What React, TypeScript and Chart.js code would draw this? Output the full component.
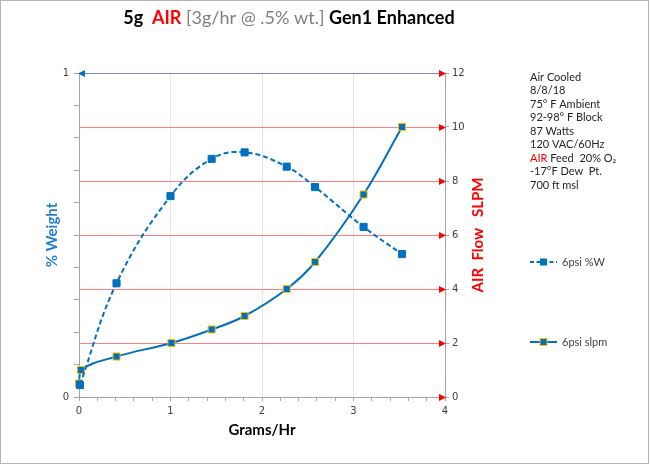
import React, { useEffect, useRef } from 'react';
import { Chart, registerables } from 'chart.js';

Chart.register(...registerables);

// ---- data ----
const gramsW = [0.01, 0.41, 1.0, 1.45, 1.81, 2.27, 2.58, 3.11, 3.53];
const weightPct = [0.037, 0.351, 0.62, 0.735, 0.755, 0.711, 0.648, 0.525, 0.441];
const gramsF = [0.0, 0.02, 0.41, 1.01, 1.45, 1.81, 2.27, 2.58, 3.11, 3.53];
const flowSlpm = [0.5, 1.0, 1.5, 2.0, 2.5, 3.0, 4.0, 5.0, 7.5, 10.0];
const xTickLabels = ['0', '1', '2', '3', '4'];
const leftTickLabels = ['0', '1'];
const rightTickValues = [0, 2, 4, 6, 8, 10, 12];
const seriesNames = ['6psi %W', '6psi slpm'];
const titleParts = ['5g  ', 'AIR', ' [3g/hr @ .5% wt.] ', 'Gen1 Enhanced'];
const titleColors = ['#000000', '#ff0000', '#7f7f7f', '#000000'];
const titleBold = [true, true, false, true];
const notes = ['Air Cooled', '8/8/18', '75° F Ambient', '92-98° F Block', '87 Watts', '120 VAC/60Hz', 'AIR Feed  20% O₂', '-17°F Dew  Pt.', '700 ft msl'];
const xTitle = 'Grams/Hr';
const leftTitle = '% Weight';
const rightTitle = 'AIR  Flow   SLPM';

const BLUE = '#0070C0';
const GOLD = '#FFC000';
const TICK_FONT = { family: 'DejaVu Sans', size: 10 };
const TEXT_FAMILY = 'Lato';

const decor = {
  id: 'decor',
  beforeDatasetsDraw(chart: any) {
    const { ctx, chartArea: a, scales } = chart;
    const y2 = scales.y2;
    ctx.save();
    const arrowRight = (x: number, y: number) => {
      ctx.fillStyle = '#ff0000';
      ctx.beginPath();
      ctx.moveTo(x + 1, y);
      ctx.lineTo(x - 6, y - 3.5);
      ctx.lineTo(x - 6, y + 3.5);
      ctx.closePath();
      ctx.fill();
    };
    for (const v of rightTickValues) {
      const py = Math.round(y2.getPixelForValue(v)) + 0.5;
      if (v > 0 && v < 12) {
        ctx.strokeStyle = '#ff7f7f';
        ctx.lineWidth = 1;
        ctx.beginPath();
        ctx.moveTo(Math.round(a.left) + 1, py);
        ctx.lineTo(a.right - 4, py);
        ctx.stroke();
      } else if (v === 12) {
        ctx.strokeStyle = '#7d87c4';
        ctx.lineWidth = 1;
        ctx.beginPath();
        ctx.moveTo(a.left, py);
        ctx.lineTo(a.right, py);
        ctx.stroke();
        ctx.fillStyle = BLUE;
        ctx.beginPath();
        ctx.moveTo(a.left - 1, py);
        ctx.lineTo(a.left + 6, py - 3.5);
        ctx.lineTo(a.left + 6, py + 3.5);
        ctx.closePath();
        ctx.fill();
      }
      arrowRight(a.right, py);
    }
    ctx.restore();
  },
  afterDraw(chart: any) {
    const { ctx, chartArea: a } = chart;
    ctx.save();
    // title
    ctx.textBaseline = 'middle';
    ctx.textAlign = 'left';
    const fonts = titleBold.map((b) => `${b ? 'bold ' : ''}18px ${TEXT_FAMILY}`);
    let total = 0;
    const widths = titleParts.map((t, i) => {
      ctx.font = fonts[i];
      const w = ctx.measureText(t).width;
      total += w;
      return w;
    });
    let x = 289 - total / 2;
    titleParts.forEach((t, i) => {
      ctx.font = fonts[i];
      ctx.fillStyle = titleColors[i];
      ctx.fillText(t, x, 18);
      x += widths[i];
    });
    // axis titles
    const cy = (a.top + a.bottom) / 2;
    ctx.textAlign = 'center';
    ctx.font = `bold 15px ${TEXT_FAMILY}`;
    ctx.fillStyle = '#000000';
    ctx.fillText(xTitle, (a.left + a.right) / 2, 430);
    ctx.save();
    ctx.translate(52, cy);
    ctx.rotate(-Math.PI / 2);
    ctx.fillStyle = '#1f7fd6';
    ctx.fillText(leftTitle, 0, 0);
    ctx.restore();
    ctx.save();
    ctx.translate(478, cy);
    ctx.rotate(-Math.PI / 2);
    ctx.fillStyle = '#ff0000';
    ctx.fillText(rightTitle, 0, 0);
    ctx.restore();
    // notes
    ctx.textAlign = 'left';
    ctx.font = `11px ${TEXT_FAMILY}`;
    notes.forEach((n, i) => {
      const ny = 77 + i * 13.5;
      if (n.startsWith('AIR')) {
        ctx.fillStyle = '#ff0000';
        ctx.fillText('AIR', 530, ny);
        const w = ctx.measureText('AIR ').width;
        ctx.fillStyle = '#262626';
        ctx.fillText(n.slice(4), 530 + w, ny);
      } else {
        ctx.fillStyle = '#262626';
        ctx.fillText(n, 530, ny);
      }
    });
    // legend
    const legY = [262, 342];
    legY.forEach((ly, i) => {
      ctx.strokeStyle = BLUE;
      ctx.lineWidth = 2;
      ctx.setLineDash(i === 0 ? [4, 2.5] : []);
      ctx.beginPath();
      ctx.moveTo(530, ly);
      ctx.lineTo(557, ly);
      ctx.stroke();
      ctx.setLineDash([]);
      ctx.fillStyle = BLUE;
      ctx.fillRect(540, ly - 3.5, 7, 7);
      if (i === 1) {
        ctx.strokeStyle = GOLD;
        ctx.lineWidth = 1;
        ctx.strokeRect(540, ly - 3.5, 7, 7);
      }
      ctx.fillStyle = '#404040';
      ctx.font = `11px ${TEXT_FAMILY}`;
      ctx.fillText(seriesNames[i], 562, ly);
    });
    // outer border
    ctx.strokeStyle = '#b4b4b4';
    ctx.lineWidth = 1;
    ctx.strokeRect(0.5, 0.5, 648, 463);
    ctx.restore();
  },
};

export default function App() {
  const ref = useRef<HTMLCanvasElement | null>(null);
  useEffect(() => {
    if (!ref.current) return;
    const isInt = (v: number) => Math.abs(v - Math.round(v)) < 1e-6;
    const chart = new Chart(ref.current, {
      type: 'line',
      data: {
        datasets: [
          {
            label: seriesNames[0],
            data: gramsW.map((x, i) => ({ x, y: weightPct[i] })),
            yAxisID: 'y',
            borderColor: BLUE,
            borderWidth: 2,
            borderDash: [5, 3],
            pointStyle: 'rect',
            pointRadius: 5,
            pointBackgroundColor: BLUE,
            pointBorderColor: BLUE,
            pointBorderWidth: 1,
            tension: 0.4,
            fill: false,
            clip: false,
          } as any,
          {
            label: seriesNames[1],
            data: gramsF.map((x, i) => ({ x, y: flowSlpm[i] })),
            yAxisID: 'y2',
            borderColor: BLUE,
            borderWidth: 2,
            pointStyle: 'rect',
            pointRadius: 5,
            pointBackgroundColor: BLUE,
            pointBorderColor: GOLD,
            pointBorderWidth: 1,
            tension: 0.4,
            fill: false,
            clip: false,
          } as any,
        ],
      },
      options: {
        animation: false,
        responsive: false,
        devicePixelRatio: 1,
        layout: { padding: { top: 73, left: 0, right: 0, bottom: 0 } },
        plugins: { legend: { display: false }, tooltip: { enabled: false }, title: { display: false } },
        scales: {
          x: {
            type: 'linear',
            min: 0,
            max: 4,
            afterFit: (s: any) => { s.height = 68; },
            ticks: {
              stepSize: 0.2,
              autoSkip: false,
              maxRotation: 0,
              padding: 4,
              color: '#404040',
              font: TICK_FONT,
              callback: (v: any) => (isInt(v) ? xTickLabels[Math.round(v)] : ''),
            },
            grid: {
              color: (c: any) => {
                const v = c.tick ? c.tick.value : 0;
                return isInt(v) && v > 0.5 && v < 3.5 ? '#e6e6e6' : 'rgba(0,0,0,0)';
              },
              tickColor: '#a6a6a6',
              tickLength: 4,
            },
            border: { color: '#a6a6a6' },
          },
          y: {
            type: 'linear',
            position: 'left',
            min: 0,
            max: 1,
            afterFit: (s: any) => { s.width = 79; },
            ticks: {
              stepSize: 0.1,
              autoSkip: false,
              padding: 5,
              color: '#404040',
              font: TICK_FONT,
              callback: (v: any) => (Math.abs(v) < 1e-6 ? leftTickLabels[0] : Math.abs(v - 1) < 1e-6 ? leftTickLabels[1] : ''),
            },
            grid: { drawOnChartArea: false, tickColor: '#a6a6a6', tickLength: 5 },
            border: { color: '#a6a6a6' },
          },
          y2: {
            type: 'linear',
            position: 'right',
            min: 0,
            max: 12,
            afterFit: (s: any) => { s.width = 205; },
            ticks: {
              stepSize: 2,
              padding: 3,
              color: '#404040',
              font: TICK_FONT,
            },
            grid: { drawOnChartArea: false, tickColor: '#a6a6a6', tickLength: 4 },
            border: { color: '#a6a6a6' },
          },
        },
      } as any,
      plugins: [decor],
    });
    return () => chart.destroy();
  }, []);
  return (
    <div style={{ position: 'absolute', left: 0, top: 0, width: 650, height: 465, background: '#ffffff' }}>
      <canvas ref={ref} width={650} height={465} />
    </div>
  );
}
